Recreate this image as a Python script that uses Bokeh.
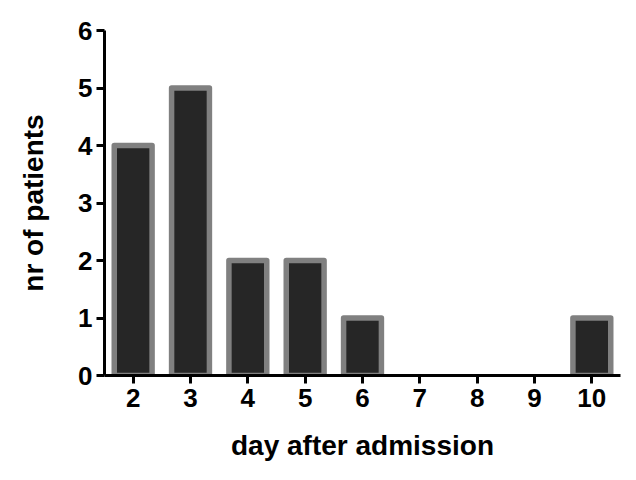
from bokeh.plotting import figure
from bokeh.models import Range1d, ColumnDataSource, FixedTicker
from bokeh.embed import file_html
from bokeh.resources import INLINE

days = [2, 3, 4, 5, 6, 7, 8, 9, 10]
patients = [4, 5, 2, 2, 1, 0, 0, 0, 1]
y_ticks = [0, 1, 2, 3, 4, 5, 6]

nz = [(d, v) for d, v in zip(days, patients) if v > 0]
src = ColumnDataSource(dict(x=[d for d, _ in nz], top=[v for _, v in nz]))

p = figure(width=628, height=472, output_backend="svg", toolbar_location=None,
           x_range=Range1d(1.5, 10.5), y_range=Range1d(0, 6),
           min_border_left=104, min_border_right=8, min_border_top=30, min_border_bottom=97)
p.outline_line_color = None
p.xgrid.grid_line_color = None
p.ygrid.grid_line_color = None

p.vbar(x="x", top="top", bottom=0, width=0.66, source=src,
       fill_color="#262626", line_color="#808080", line_width=5.5, line_join="round")

font = "Liberation Sans"
for ax in (p.xaxis, p.yaxis):
    ax.axis_line_width = 3
    ax.axis_line_color = "black"
    ax.major_tick_line_width = 3
    ax.major_tick_line_color = "black"
    ax.major_tick_in = 0
    ax.major_tick_out = 8
    ax.minor_tick_line_color = None
    ax.major_label_text_font = font
    ax.major_label_text_font_style = "bold"
    ax.major_label_text_font_size = "26px"
    ax.major_label_text_color = "black"
    ax.axis_label_text_font = font
    ax.axis_label_text_font_style = "bold"
    ax.axis_label_text_font_size = "28px"
    ax.axis_label_text_color = "black"

p.xaxis.ticker = FixedTicker(ticks=days)
p.yaxis.ticker = FixedTicker(ticks=y_ticks)
p.xaxis.axis_label = "day after admission"
p.yaxis.axis_label = "nr of patients"
p.xaxis.major_label_standoff = 5
p.yaxis.major_label_standoff = 4
p.xaxis.axis_label_standoff = 20
p.yaxis.axis_label_standoff = 26

open("out.html", "w").write(file_html(p, INLINE))
